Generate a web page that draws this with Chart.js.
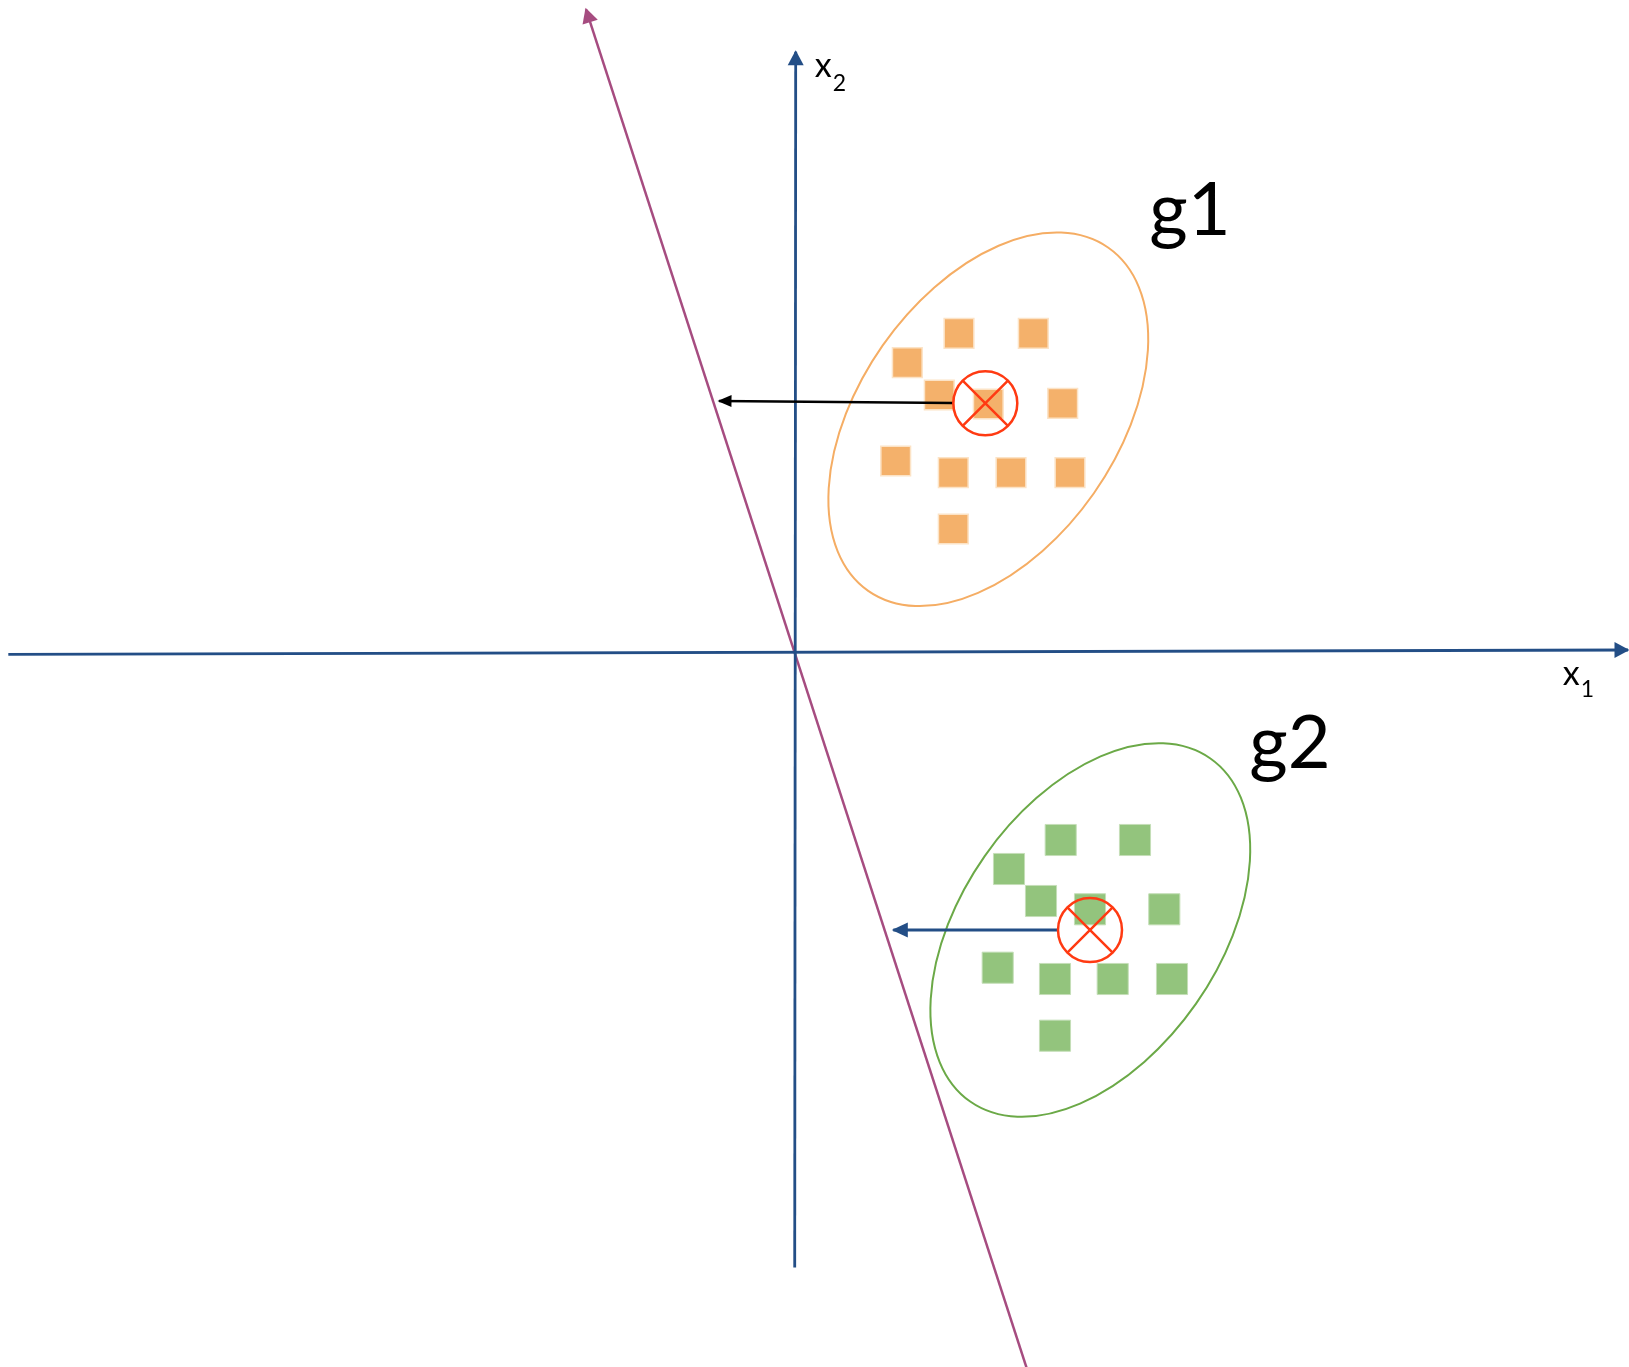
<!DOCTYPE html>
<html>
<head>
<meta charset="utf-8">
<script src="https://cdn.jsdelivr.net/npm/chart.js@4/dist/chart.umd.min.js"></script>
<style>
  html, body { margin: 0; padding: 0; background: #fff; }
  #wrap { width: 1629px; height: 1367px; position: relative; }
</style>
</head>
<body>
<div id="wrap"><canvas id="lda"></canvas></div>
<script>
// data units: 1 unit = 100 px, origin where x1 and x2 axes cross
const X_RANGE = [-7.957, 8.333];
const Y_RANGE = [-7.147, 6.523];

// group g1 (orange) samples
const g1X = [1.633, 2.376, 1.116, 1.436, 1.926, 2.670, 1.000, 1.576, 2.153, 2.743, 1.576];
const g1Y = [3.190, 3.190, 2.896, 2.573, 2.483, 2.490, 1.913, 1.796, 1.796, 1.796, 1.233];
// group g2 (green) samples
const g2X = [2.650, 3.393, 2.133, 2.453, 2.943, 3.686, 2.020, 2.593, 3.170, 3.763, 2.593];
const g2Y = [-1.877, -1.877, -2.167, -2.487, -2.570, -2.570, -3.154, -3.267, -3.267, -3.267, -3.834];

// group means (circled crosses)
const meanX = [1.896, 2.943];
const meanY = [2.490, -2.777];

// coordinate axes and projection direction [start, tip]
const axisX1 = [[-7.874, -0.020], [8.323, 0.023]];
const axisX2 = [[-0.010, -6.152], [0.000, 6.006]];
const projLine = [[2.330, -7.220], [-2.097, 6.430]];

// projections of the means onto the direction
const projG1 = [[1.576, 2.493], [-0.767, 2.513]];
const projG2 = [[2.626, -2.777], [0.976, -2.777]];

// covariance ellipses: centre, semi-axes, tilt (deg)
const ellCx = [1.926, 2.946];
const ellCy = [2.330, -2.777];
const ellA = [2.094, 2.094];
const ellB = [1.289, 1.289];
const ellAngle = [55, 55];
const ellColor = ["#F5AD64", "#6BA947"];

// text labels
const groupLabels = ["g1", "g2"];
const groupLabelX = [3.536, 4.536];
const groupLabelY = [4.173, -1.160];

const C = {
  axis: "#234E86",
  proj: "#A64C80",
  orange: "#F4B16B",
  orangeEdge: "#FCE3C6",
  green: "#93C47D",
  greenEdge: "#C5DFB8",
  red: "#FF3A12",
  black: "#000000",
};

const pts = (xs, ys) => xs.map((x, i) => ({ x, y: ys[i] }));
const seg = (s) => s.map(p => ({ x: p[0], y: p[1] }));

function lineSet(data, color, width, head) {
  return {
    data: seg(data), showLine: true, pointRadius: 0, borderColor: color,
    borderWidth: width, fill: false, tension: 0, order: 3, arrowHead: head,
  };
}

const ellipsePlugin = {
  id: "ellipses",
  beforeDatasetsDraw(chart) {
    const { ctx, scales: { x, y } } = chart;
    ctx.save();
    ellCx.forEach((cx, i) => {
      const px = x.getPixelForValue(cx), py = y.getPixelForValue(ellCy[i]);
      const rx = x.getPixelForValue(ellA[i]) - x.getPixelForValue(0);
      const ry = x.getPixelForValue(ellB[i]) - x.getPixelForValue(0);
      ctx.beginPath();
      ctx.ellipse(px, py, rx, ry, -ellAngle[i] * Math.PI / 180, 0, Math.PI * 2);
      ctx.strokeStyle = ellColor[i];
      ctx.lineWidth = 2;
      ctx.stroke();
    });
    ctx.restore();
  },
};

const arrowPlugin = {
  id: "arrows",
  afterDatasetsDraw(chart) {
    const ctx = chart.ctx;
    chart.data.datasets.forEach((ds, i) => {
      if (!ds.arrowHead) return;
      const el = chart.getDatasetMeta(i).data;
      const a = el[el.length - 2], b = el[el.length - 1];
      const ang = Math.atan2(b.y - a.y, b.x - a.x);
      const [len, half] = ds.arrowHead;
      const tx = b.x + Math.cos(ang) * 1.5, ty = b.y + Math.sin(ang) * 1.5;
      ctx.save();
      ctx.translate(tx, ty);
      ctx.rotate(ang);
      ctx.beginPath();
      ctx.moveTo(0, 0);
      ctx.lineTo(-len, -half);
      ctx.lineTo(-len, half);
      ctx.closePath();
      ctx.fillStyle = ds.borderColor;
      ctx.fill();
      ctx.restore();
    });
  },
};

const textPlugin = {
  id: "labels",
  afterDraw(chart) {
    const { ctx, scales: { x, y } } = chart;
    ctx.save();
    ctx.fillStyle = "#000";
    ctx.textBaseline = "alphabetic";
    ctx.font = "74px Lato";
    groupLabels.forEach((t, i) => {
      ctx.fillText(t, x.getPixelForValue(groupLabelX[i]), y.getPixelForValue(groupLabelY[i]));
    });
    // axis names with subscripts
    const sub = (bx, by, sbase, s) => {
      const px = x.getPixelForValue(bx), py = y.getPixelForValue(by);
      ctx.font = "34px Lato";
      ctx.fillText("x", px, py);
      const w = ctx.measureText("x").width;
      ctx.font = "23px Lato";
      ctx.fillText(s, px + w + 1, py + sbase);
    };
    sub(0.19, 5.75, 14, "2");
    sub(7.67, -0.33, 12, "1");
    ctx.restore();
  },
};

new Chart(document.getElementById("lda"), {
  type: "scatter",
  data: {
    datasets: [
      { data: pts(meanX, meanY), pointStyle: "crossRot", pointRadius: 32, borderColor: C.red, borderWidth: 2.5, order: 0 },
      { data: pts(meanX, meanY), pointStyle: "circle", pointRadius: 32, borderColor: C.red, backgroundColor: "rgba(0,0,0,0)", borderWidth: 2.5, order: 0 },
      lineSet(projG1, C.black, 2.5, [14, 6]),
      lineSet(projG2, C.axis, 3, [16, 7.5]),
      { data: pts(g1X, g1Y), pointStyle: "rect", pointRadius: 21, backgroundColor: C.orange, borderColor: C.orangeEdge, borderWidth: 1.5, order: 4 },
      { data: pts(g2X, g2Y), pointStyle: "rect", pointRadius: 22, backgroundColor: C.green, borderColor: C.greenEdge, borderWidth: 1, order: 4 },
      lineSet(axisX1, C.axis, 2.8, [15, 8]),
      lineSet(axisX2, C.axis, 2.8, [15, 8]),
      lineSet(projLine, C.proj, 2.5, [15, 8]),
    ],
  },
  options: {
    responsive: true,
    maintainAspectRatio: false,
    animation: false,
    events: [],
    layout: { padding: 0, autoPadding: false },
    plugins: { legend: { display: false }, tooltip: { enabled: false } },
    scales: {
      x: { type: "linear", display: false, min: X_RANGE[0], max: X_RANGE[1] },
      y: { type: "linear", display: false, min: Y_RANGE[0], max: Y_RANGE[1] },
    },
  },
  plugins: [ellipsePlugin, arrowPlugin, textPlugin],
});
</script>
</body>
</html>
